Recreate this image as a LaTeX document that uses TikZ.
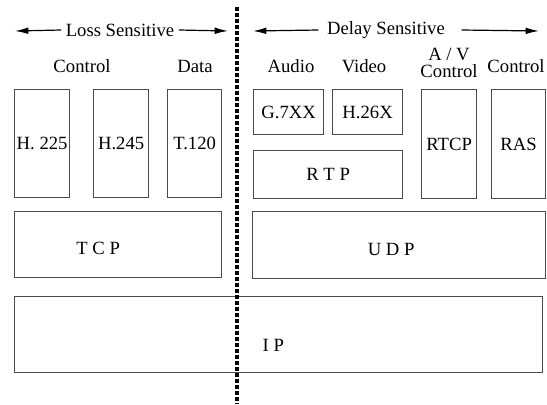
\documentclass[tikz,border=0pt]{standalone}
\usepackage{fontspec}
\setmainfont{Liberation Serif}
\usepackage{tikz}
\usetikzlibrary{arrows.meta}
\usetikzlibrary{positioning}
\tikzset{blk/.style = {draw=black!70, line width=0.9pt, inner sep=0pt,
                       anchor=north west},
         sens/.style = {-{Latex[length=10pt, width=5pt]}, line width=0.9pt},
         split/.style = {line width=2.7pt, dash pattern=on 2.7pt off 1.8pt}}

\begin{document}
\begin{tikzpicture}[x=0.75pt, y=-0.75pt, font=\fontsize{14}{13}\selectfont]
    \useasboundingbox (0, 0) rectangle (547, 404);

    % headings
    \node (loss) at (120, 30) {Loss Sensitive};
    \node (delay) at (386, 30) {Delay Sensitive};
    \coordinate (lossL) at (15, 31);
    \coordinate (lossR) at (228, 31);
    \coordinate (delayL) at (253, 31);
    \coordinate (delayR) at (539, 31);
    \draw [sens] (loss.west) -- (lossL);
    \draw [sens] (loss.east) -- (lossR);
    \draw [sens] ([xshift=-3]delay.west) -- (delayL);
    \draw [sens] ([xshift=9]delay.east) -- (delayR);

    \node (ctl) at (82, 66) {Control};
    \node (data) at (195, 66) {Data};
    \node (audio) at (291, 66) {Audio};
    \node (video) at (364, 66) {Video};
    \node [align=center] (avctl) at (449, 63) {A / V\\Control};
    \node (ctl2) at (516, 66) {Control};

    % application boxes
    \node [blk, minimum width=41.25pt, minimum height=81pt] (h225) at (14, 89) {H. 225};
    \node [blk, minimum width=41.25pt, minimum height=81pt] (h245) at (93, 89) {H.245};
    \node [blk, minimum width=40.5pt, minimum height=81pt] (t120) at (167, 89) {T.120};
    \node [blk, minimum width=52.5pt, minimum height=33.75pt] (g7xx) at (253, 89) {G.7XX};
    \node [blk, minimum width=52.5pt, minimum height=33.75pt] (h26x) at (332, 89) {H.26X};
    \node [blk, minimum width=111.75pt, minimum height=36pt] (rtp) at (253, 150) {R T P};
    \node [blk, minimum width=41.25pt, minimum height=81.75pt] (rtcp) at (421, 89) {RTCP};
    \node [blk, minimum width=40.5pt, minimum height=81.75pt] (ras) at (491, 89) {RAS};

    % transport and network
    \node [blk, minimum width=155.25pt, minimum height=49.5pt,
           label={[xshift=-15pt, yshift=-3pt]center:T C P}] (tcp) at (14, 211) {};
    \node [blk, minimum width=219.75pt, minimum height=50.25pt,
           label={[xshift=-6pt, yshift=-3pt]center:U D P}] (udp) at (252, 211) {};
    \node [blk, minimum width=396pt, minimum height=57pt,
           label={[xshift=-4pt, yshift=-8pt]center:I P}] (ip) at (14, 296) {};

    \coordinate (splitT) at (237, 7);
    \coordinate (splitB) at (237, 404);
    \draw [split] (splitT) -- (splitB);
\end{tikzpicture}
\end{document}
